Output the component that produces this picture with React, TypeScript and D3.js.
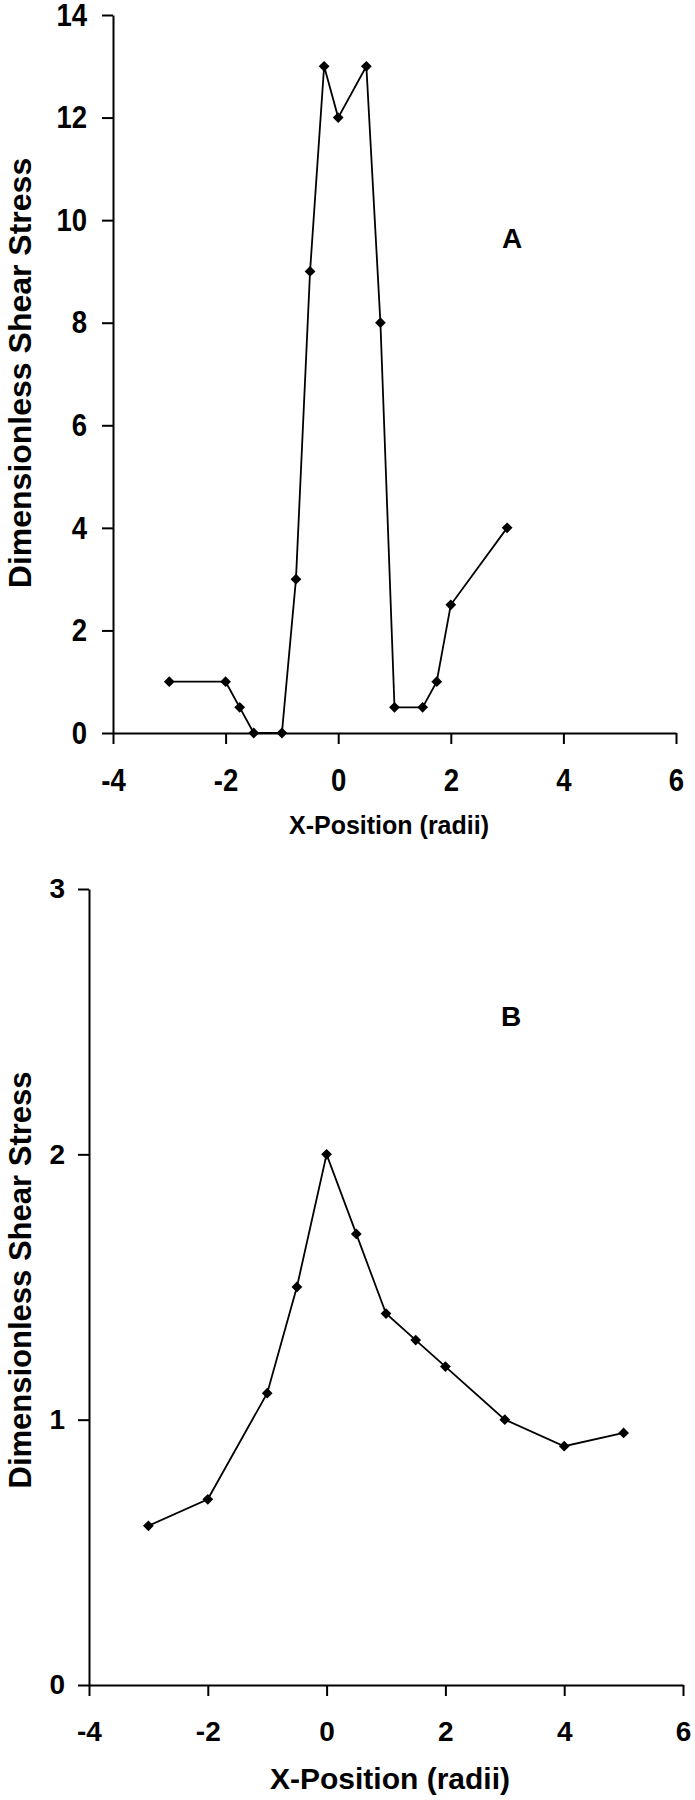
import React, { useEffect, useRef } from 'react';
import * as d3 from 'd3';

// Panel A data
const xA = [-3, -2, -1.75, -1.5, -1, -0.75, -0.5, -0.25, 0, 0.5, 0.75, 1, 1.5, 1.75, 2, 3];
const yA = [1, 1, 0.5, 0, 0, 3, 9, 13, 12, 13, 8, 0.5, 0.5, 1, 2.5, 4];

// Panel B data
const xB = [-3, -2, -1, -0.5, 0, 0.5, 1, 1.5, 2, 3, 4, 5];
const yB = [0.6, 0.7, 1.1, 1.5, 2.0, 1.7, 1.4, 1.3, 1.2, 1.0, 0.9, 0.95];

const xTicks = [-4, -2, 0, 2, 4, 6];
const yTicksA = [0, 2, 4, 6, 8, 10, 12, 14];
const yTicksB = [0, 1, 2, 3];

const xTitle = 'X-Position (radii)';
const yTitle = 'Dimensionless Shear Stress';

const W = 695;
const H = 1800;

const sans = "'Liberation Sans', Arial, sans-serif";

type Panel = {
    xs: number[];
    ys: number[];
    xRange: [number, number];
    yDomain: [number, number];
    yRange: [number, number];
    yTicks: number[];
    tickSize: number;
    squeeze: number; // horizontal condensing of tick labels
    xPad: number;
    yPad: number;
    xTitleX: number;
    xTitleSize: number;
    xTitleY: number;
    yTitleSize: number;
    yTitleY: number;
    letter: string;
    letterX: number;
    letterY: number;
};

const panels: Panel[] = [
    {
        xs: xA, ys: yA,
        xRange: [113, 676], yDomain: [0, 14], yRange: [733, 15], yTicks: yTicksA,
        tickSize: 32, squeeze: 0.86, xPad: 24, yPad: 15,
        xTitleX: 389, xTitleSize: 25, xTitleY: 834, yTitleSize: 32, yTitleY: 373,
        letter: 'A', letterX: 512, letterY: 248,
    },
    {
        xs: xB, ys: yB,
        xRange: [89, 683], yDomain: [0, 3], yRange: [1685, 889], yTicks: yTicksB,
        tickSize: 28, squeeze: 1, xPad: 25, yPad: 13,
        xTitleX: 390, xTitleSize: 30, xTitleY: 1789, yTitleSize: 31, yTitleY: 1280,
        letter: 'B', letterX: 511, letterY: 1026,
    },
];

const App = () => {
    const svgRef = useRef<SVGSVGElement>(null);

    useEffect(() => {
        const svg = d3.select(svgRef.current);
        svg.selectAll('*').remove();

        panels.forEach(p => {
            const x = d3.scaleLinear().domain([-4, 6]).range(p.xRange);
            const y = d3.scaleLinear().domain(p.yDomain).range(p.yRange);
            const g = svg.append('g');

            // axes
            const gx = g.append('g')
                .attr('transform', `translate(0,${p.yRange[0]})`)
                .call(d3.axisBottom(x).tickValues(xTicks).tickSize(11).tickSizeOuter(0).tickPadding(p.xPad).tickFormat(d3.format('d')));
            const gy = g.append('g')
                .attr('transform', `translate(${p.xRange[0]},0)`)
                .call(d3.axisLeft(y).tickValues(p.yTicks).tickSize(11).tickSizeOuter(0).tickPadding(p.yPad).tickFormat(d3.format('d')));

            // plain hyphen for negatives, as in the original
            gx.selectAll('text').text((d: any) => String(d));

            [gx, gy].forEach(a => {
                a.select('.domain').attr('stroke', '#000').attr('stroke-width', 2);
                a.selectAll('.tick line').attr('stroke', '#000').attr('stroke-width', 2);
                a.selectAll<SVGTextElement, unknown>('text')
                    .attr('fill', '#000')
                    .style('font-family', sans)
                    .style('font-weight', 'bold')
                    .style('font-size', `${p.tickSize}px`)
                    .each(function () {
                        if (p.squeeze !== 1) {
                            const w = this.getComputedTextLength();
                            d3.select(this)
                                .attr('textLength', w * p.squeeze)
                                .attr('lengthAdjust', 'spacingAndGlyphs');
                        }
                    });
            });

            // line + markers
            const pts = p.xs.map((v, i) => [v, p.ys[i]] as [number, number]);
            g.append('path')
                .datum(pts)
                .attr('fill', 'none')
                .attr('stroke', '#000')
                .attr('stroke-width', 1.8)
                .attr('d', d3.line<[number, number]>().x(d => x(d[0])).y(d => y(d[1])));

            g.selectAll('.mk')
                .data(pts)
                .enter().append('path')
                .attr('class', 'mk')
                .attr('d', d3.symbol(d3.symbolSquare, 58)())
                .attr('fill', '#000')
                .attr('transform', d => `translate(${x(d[0])},${y(d[1])}) rotate(45)`);

            // titles
            g.append('text')
                .attr('x', p.xTitleX)
                .attr('y', p.xTitleY)
                .attr('text-anchor', 'middle')
                .style('font-family', sans)
                .style('font-weight', 'bold')
                .style('font-size', `${p.xTitleSize}px`)
                .text(xTitle);

            g.append('text')
                .attr('transform', `translate(20,${p.yTitleY}) rotate(-90)`)
                .attr('text-anchor', 'middle')
                .attr('dominant-baseline', 'central')
                .style('font-family', sans)
                .style('font-weight', 'bold')
                .style('font-size', `${p.yTitleSize}px`)
                .text(yTitle);

            g.append('text')
                .attr('x', p.letterX)
                .attr('y', p.letterY)
                .attr('text-anchor', 'middle')
                .style('font-family', sans)
                .style('font-weight', 'bold')
                .style('font-size', '28px')
                .text(p.letter);
        });
    }, []);

    return (
        <svg ref={svgRef} width={W} height={H}
            style={{ position: 'absolute', left: 0, top: 0, background: '#fff' }} />
    );
};

export default App;
